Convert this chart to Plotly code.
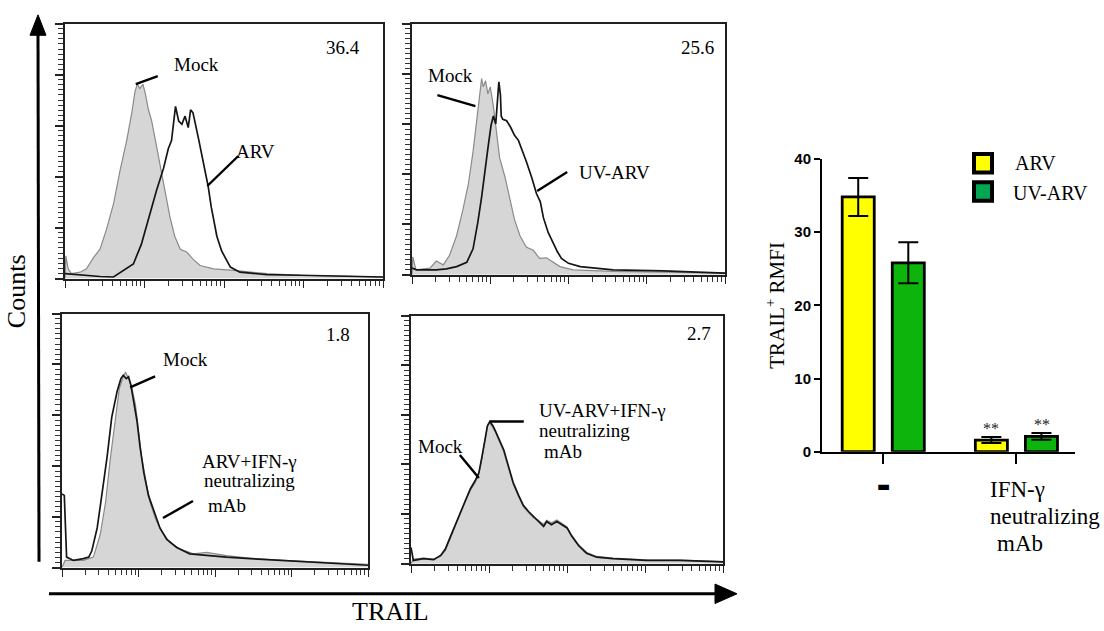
import math
import plotly.graph_objects as go

W, H = 1104, 631

# ---------------- Histogram data (x: log10 TRAIL intensity in decades, y: % of max counts)
p1_mock_x = [0, 0.01, 0.04, 0.08, 0.19, 0.27, 0.36, 0.44, 0.52, 0.61, 0.69, 0.78, 0.84, 0.88, 0.91, 0.94, 0.98,
             1.01, 1.05, 1.09, 1.13, 1.19, 1.26, 1.32, 1.38, 1.45, 1.53, 1.61, 1.70, 1.87, 2.12, 2.54, 2.96, 3.38, 4.0]
p1_mock_y = [0, 8.9, 3.8, 1.9, 2.5, 3.8, 8.3, 11.5, 19.1, 29.3, 42.0, 54.8, 65.0, 73.2, 76.4, 74.5, 76.2,
             72.6, 66.2, 61.8, 55.4, 45.2, 34.4, 24.2, 16.6, 11.5, 10.4, 7.6, 5.1, 3.8, 3.2, 1.9, 1.3, 1.0, 0.6]
p1_arv_x = [0, 0.15, 0.27, 0.44, 0.61, 0.73, 0.86, 0.96, 1.05, 1.15, 1.24, 1.30, 1.34, 1.37, 1.39, 1.43, 1.47,
            1.51, 1.55, 1.58, 1.61, 1.68, 1.74, 1.80, 1.84, 1.91, 1.97, 2.08, 2.20, 2.54, 2.96, 4.0]
p1_arv_y = [1.9, 1.5, 1.0, 0.8, 0.6, 3.2, 5.7, 13.4, 23.6, 34.4, 43.3, 51.0, 54.1, 63.7, 67.5, 61.8, 60.5,
            63.7, 59.2, 66.2, 65.0, 54.8, 45.9, 36.3, 28.0, 16.6, 10.8, 4.5, 2.5, 1.5, 1.3, 0.6]

p2_mock_x = [0, 0.01, 0.05, 0.23, 0.31, 0.40, 0.48, 0.57, 0.65, 0.72, 0.78, 0.84, 0.89, 0.91, 0.94, 0.97, 1.00,
             1.04, 1.08, 1.12, 1.19, 1.25, 1.31, 1.38, 1.46, 1.55, 1.63, 1.72, 1.80, 1.89, 2.06, 2.57, 3.21, 4.0]
p2_mock_y = [0, 7.1, 1.9, 2.6, 5.4, 3.9, 7.7, 15.5, 25.8, 36.1, 49.0, 64.5, 78.1, 74.8, 77.2, 72.0, 74.8,
             67.1, 55.5, 46.5, 38.7, 29.7, 21.9, 15.5, 11.0, 9.7, 6.5, 6.7, 4.9, 3.2, 1.9, 1.3, 1.0, 0.6]
p2_uv_x = [0, 0.06, 0.31, 0.44, 0.57, 0.70, 0.78, 0.84, 0.89, 0.93, 0.97, 1.01, 1.04, 1.07, 1.09, 1.11, 1.13,
           1.14, 1.16, 1.21, 1.26, 1.31, 1.36, 1.40, 1.46, 1.53, 1.59, 1.64, 1.68, 1.74, 1.80, 1.86, 1.91, 2.00,
           2.15, 2.57, 3.21, 4.0]
p2_uv_y = [2.6, 1.9, 1.9, 2.3, 3.2, 4.9, 10.3, 20.6, 31.0, 41.3, 50.3, 59.4, 63.2, 60.0, 68.4, 76.8, 71.6,
           63.2, 61.9, 61.3, 58.7, 55.5, 53.5, 50.3, 45.2, 38.7, 32.3, 29.0, 22.6, 16.8, 12.9, 9.0, 6.5, 4.5,
           3.2, 1.9, 1.5, 0.6]

p3_mock_x = [0, 0.04, 0.28, 0.41, 0.50, 0.57, 0.63, 0.70, 0.75, 0.80, 0.83, 0.87, 0.91, 0.96, 1.00, 1.04, 1.10,
             1.15, 1.22, 1.30, 1.41, 1.54, 1.72, 1.89, 2.15, 2.50, 2.89, 3.33, 4.0]
p3_mock_y = [0, 2.8, 2.8, 4.1, 13.0, 25.8, 42.5, 59.1, 70.6, 75.1, 77.0, 74.4, 71.2, 64.2, 54.0, 43.7, 33.5,
             25.8, 19.4, 14.3, 9.8, 7.3, 5.4, 6.0, 4.7, 3.5, 2.8, 2.2, 1.3]
p3_ifn_x = [0, 0.03, 0.06, 0.15, 0.28, 0.35, 0.39, 0.46, 0.52, 0.59, 0.65, 0.72, 0.77, 0.80, 0.84, 0.87, 0.90,
            0.93, 0.98, 1.02, 1.07, 1.13, 1.20, 1.28, 1.37, 1.50, 1.67, 1.89, 2.15, 2.46, 2.89, 3.33, 3.72, 4.0]
p3_ifn_y = [29.0, 28.4, 4.1, 2.8, 3.5, 4.1, 6.6, 15.6, 28.4, 43.7, 59.1, 69.3, 74.4, 75.7, 74.4, 75.1, 71.9,
            66.8, 57.8, 47.6, 37.3, 28.4, 22.0, 15.6, 11.1, 7.9, 5.4, 4.7, 4.1, 3.5, 2.8, 2.2, 1.5, 0.9]

p4_x = [0, 0.03, 0.16, 0.29, 0.38, 0.44, 0.50, 0.57, 0.63, 0.70, 0.76, 0.82, 0.87, 0.91, 0.95, 0.98, 1.01,
        1.05, 1.08, 1.12, 1.19, 1.25, 1.31, 1.38, 1.44, 1.51, 1.57, 1.63, 1.70, 1.74, 1.80, 1.87, 1.93, 2.00,
        2.06, 2.15, 2.25, 2.38, 2.59, 3.02, 3.45, 4.0]
p4_mock_y = [0, 1.8, 2.2, 1.8, 3.0, 5.2, 9.8, 15.0, 20.2, 25.5, 29.5, 32.6, 36.0, 42.5, 50.4, 55.2, 56.8,
             55.0, 53.2, 50.2, 45.0, 38.6, 32.0, 27.0, 23.0, 20.5, 18.5, 17.5, 15.8, 17.5, 16.5, 17.6, 16.2, 14.8,
             11.5, 7.6, 4.6, 2.9, 2.2, 1.5, 1.4, 0.8]
p4_ifn_y = [6.5, 1.3, 2.0, 1.6, 3.3, 5.9, 10.5, 15.7, 20.9, 26.1, 30.1, 33.3, 36.6, 43.1, 51.0, 55.6, 57.3,
            55.6, 53.6, 51.0, 45.8, 39.2, 32.7, 27.5, 23.5, 20.9, 19.0, 17.0, 15.0, 17.0, 15.7, 17.0, 15.7, 14.4,
            11.1, 7.2, 4.2, 2.6, 2.0, 1.3, 1.3, 0.7]

panel_values = ["36.4", "25.6", "1.8", "2.7"]

# ---------------- Bar chart data
bar_categories = ["-", "IFN-γ neutralizing mAb"]
arv_vals = [34.8, 1.6]
arv_err = [2.6, 0.4]
uv_vals = [25.8, 2.1]
uv_err = [2.8, 0.45]
sig_marks = ["", "**"]
bar_yticks = [0, 10, 20, 30, 40]

# ---------------- helpers
def fx(p):
    return p / W

def fy(p):
    return 1 - p / H

SERIF = "Liberation Serif"
GRAY_FILL = "#d6d6d6"
GRAY_LINE = "#8a8a8a"
BLACK = "#151515"

fig = go.Figure()

hist_sets = [
    (1, p1_mock_x, p1_mock_y, p1_arv_x, p1_arv_y),
    (2, p2_mock_x, p2_mock_y, p2_uv_x, p2_uv_y),
    (3, p3_mock_x, p3_mock_y, p3_ifn_x, p3_ifn_y),
    (4, p4_x, p4_mock_y, p4_x, p4_ifn_y),
]
for idx, mx, my, sx, sy in hist_sets:
    xa = "x" if idx == 1 else f"x{idx}"
    ya = "y" if idx == 1 else f"y{idx}"
    fig.add_trace(go.Scatter(x=mx, y=my, mode="lines", fill="tozeroy", fillcolor=GRAY_FILL,
                             line=dict(color=GRAY_LINE, width=1.2), xaxis=xa, yaxis=ya,
                             showlegend=False, hoverinfo="skip"))
    fig.add_trace(go.Scatter(x=sx, y=sy, mode="lines",
                             line=dict(color=BLACK, width=1.7), xaxis=xa, yaxis=ya,
                             showlegend=False, hoverinfo="skip"))

# Bars
xpos = list(range(len(bar_categories)))
fig.add_trace(go.Bar(x=xpos, y=arv_vals, name="ARV", xaxis="x5", yaxis="y5",
                     marker=dict(color="#ffff00", line=dict(color="black", width=2.8)),
                     error_y=dict(type="data", array=arv_err, color="black", thickness=2, width=10),
                     showlegend=False))
fig.add_trace(go.Bar(x=xpos, y=uv_vals, name="UV-ARV", xaxis="x5", yaxis="y5",
                     marker=dict(color="#0cb40c", line=dict(color="black", width=2.8)),
                     error_y=dict(type="data", array=uv_err, color="black", thickness=2, width=10),
                     showlegend=False))

# ---------------- axes
hist_domains = {
    1: ((65, 383), (15, 277)),
    2: ((412, 725), (15, 273)),
    3: ((62, 368), (313, 574)),
    4: ((411, 723), (315, 570)),
}
minor_x = [k + math.log10(m) for k in range(4) for m in range(2, 10)]
layout = {}
for idx, ((x0, x1), (y0, y1)) in hist_domains.items():
    xk = "xaxis" if idx == 1 else f"xaxis{idx}"
    yk = "yaxis" if idx == 1 else f"yaxis{idx}"
    xa = "x" if idx == 1 else f"x{idx}"
    ya = "y" if idx == 1 else f"y{idx}"
    layout[xk] = dict(domain=[fx(x0), fx(x1)], range=[0, 4], anchor=ya,
                      showline=True, mirror=True, linecolor="#202020", linewidth=2.2,
                      showgrid=False, zeroline=False, showticklabels=False,
                      tickmode="array", tickvals=[0, 1, 2, 3, 4], ticks="outside", ticklen=7,
                      tickwidth=1.4, tickcolor="#222",
                      minor=dict(tickmode="array", tickvals=minor_x, ticks="outside", ticklen=5,
                                 tickwidth=1.2, tickcolor="#333"))
    layout[yk] = dict(domain=[fy(y1), fy(y0)], range=[0, 100], anchor=xa,
                      showline=True, mirror=True, linecolor="#202020", linewidth=1.6,
                      showgrid=False, zeroline=False, showticklabels=False,
                      dtick=20, ticks="outside", ticklen=8, tickwidth=1.6, tickcolor="#222",
                      minor=dict(dtick=2, ticks="outside", ticklen=5, tickwidth=1.4, tickcolor="#333"))

layout["xaxis5"] = dict(domain=[fx(822), fx(1075)], range=[-0.46, 1.44], anchor="y5",
                        showline=True, linecolor="black", linewidth=2, showgrid=False, zeroline=False,
                        tickmode="array", tickvals=xpos, showticklabels=False, ticks="outside",
                        ticklen=10, tickwidth=1.5, tickcolor="black")
layout["yaxis5"] = dict(domain=[fy(455), fy(154)], range=[0, 40], anchor="x5",
                        showline=True, linecolor="black", linewidth=2, showgrid=False, zeroline=False,
                        tickmode="array", tickvals=bar_yticks, ticks="outside", ticklen=6, tickwidth=2,
                        tickcolor="black",
                        tickfont=dict(family="Liberation Sans Narrow, Liberation Sans, Arial", size=15,
                                      color="black", weight="bold"))

ann = []
shapes = []

def text(t, x, y, xref="paper", yref="paper", size=19, color="black", family=SERIF, **kw):
    d = dict(text=t, x=x, y=y, xref=xref, yref=yref, showarrow=False,
             xanchor="center", yanchor="middle",
             font=dict(family=family, size=size, color=color))
    d.update(kw)
    ann.append(d)

def pointer(x, y, ax, ay, xref, yref):
    # leader line anchored at a data point (x, y), extending (ax, ay) screen pixels (ay > 0 = down)
    shapes.append(dict(type="line", xref=xref, yref=yref,
                       xsizemode="pixel", ysizemode="pixel", xanchor=x, yanchor=y,
                       x0=0, x1=ax, y0=0, y1=-ay,
                       line=dict(color="black", width=2.4)))

# Panel 1
text("Mock", 1.66, 84.0, "x", "y")
pointer(0.89, 76.3, 22, -8, "x", "y")
text("ARV", 2.39, 50.0, "x", "y")
pointer(1.79, 36.3, 31, -30, "x", "y")
text(panel_values[0], 3.50, 90.5, "x", "y")
# Panel 2
text("Mock", 0.49, 79.5, "x2", "y2")
pointer(0.81, 67.1, -38, -11, "x2", "y2")
text("UV-ARV", 2.59, 40.7, "x2", "y2")
pointer(1.60, 33.3, 30, -19, "x2", "y2")
text(panel_values[1], 3.65, 90.3, "x2", "y2")
# Panel 3
text("Mock", 1.62, 82.0, "x3", "y3")
pointer(0.89, 70.9, 25, -11, "x3", "y3")
text("ARV+IFN-γ", 1.80, 41.8, "x3", "y3", xanchor="left")
text("neutralizing", 1.83, 34.1, "x3", "y3", xanchor="left")
text("mAb", 1.88, 24.5, "x3", "y3", xanchor="left")
pointer(1.32, 19.5, 30, -17, "x3", "y3")
text(panel_values[2], 3.61, 91.6, "x3", "y3")
# Panel 4
text("UV-ARV+IFN-γ", 1.62, 61.6, "x4", "y4", xanchor="left")
text("neutralizing", 1.62, 53.7, "x4", "y4", xanchor="left")
text("mAb", 1.68, 45.1, "x4", "y4", xanchor="left")
pointer(1.01, 57.3, 34, 0, "x4", "y4")
text("Mock", 0.38, 47.1, "x4", "y4")
pointer(0.87, 34.5, -19, -23, "x4", "y4")
text(panel_values[3], 3.69, 92.9, "x4", "y4")

# Global axis labels
text("TRAIL", fx(390), fy(619), size=26)
text("Counts", fx(16), fy(290), size=26, textangle=-90)

# Bar chart labels
text("TRAIL<sup>+</sup> RMFI", fx(776), fy(305), size=21, textangle=-90)
for i, s in enumerate(sig_marks):
    if s:
        text(s, i - 0.19, arv_vals[i] + arv_err[i], "x5", "y5", size=16, color="#222",
             yanchor="bottom", yshift=-2)
        text(s, i + 0.19, uv_vals[i] + uv_err[i], "x5", "y5", size=16, color="#222",
             yanchor="bottom", yshift=-2)
text("▬", 0, fy(490), "x5", "paper", size=14, family="DejaVu Sans")
text("IFN-γ", fx(988), fy(494), size=23, xanchor="left")
text("neutralizing", fx(988), fy(522), size=23, xanchor="left")
text("mAb", fx(995), fy(549), size=23, xanchor="left")

# Legend text
text("ARV", fx(1013), fy(158), size=20, xanchor="left")
text("UV-ARV", fx(1011), fy(189), size=20, xanchor="left")

# Legend boxes
for (y0, y1), col in [((148, 169), "#ffff00"), ((177, 198), "#00a651")]:
    shapes.append(dict(type="rect", xref="paper", yref="paper", x0=fx(974), x1=fx(992),
                       y0=fy(y1 - 1), y1=fy(y0 + 1), fillcolor=col,
                       line=dict(color="black", width=4)))
# Arrows
shapes.append(dict(type="line", xref="paper", yref="paper", x0=fx(39), x1=fx(38), y0=fy(568), y1=fy(24),
                   line=dict(color="black", width=3)))
shapes.append(dict(type="path", xref="paper", yref="paper",
                   path=f"M {fx(30)} {fy(27)} L {fx(46)} {fy(27)} L {fx(38)} {fy(6)} Z",
                   fillcolor="black", line=dict(color="black", width=1)))
shapes.append(dict(type="line", xref="paper", yref="paper", x0=fx(49), x1=fx(718), y0=fy(601), y1=fy(601),
                   line=dict(color="black", width=3)))
shapes.append(dict(type="path", xref="paper", yref="paper",
                   path=f"M {fx(715)} {fy(591)} L {fx(715)} {fy(611)} L {fx(737)} {fy(601)} Z",
                   fillcolor="black", line=dict(color="black", width=1)))

fig.update_layout(
    width=W, height=H, margin=dict(l=0, r=0, t=0, b=0),
    paper_bgcolor="white", plot_bgcolor="white",
    barmode="group", bargap=0.248, bargroupgap=0.36,
    annotations=ann, shapes=shapes, showlegend=False,
    **layout,
)

fig.write_html("out.html")
